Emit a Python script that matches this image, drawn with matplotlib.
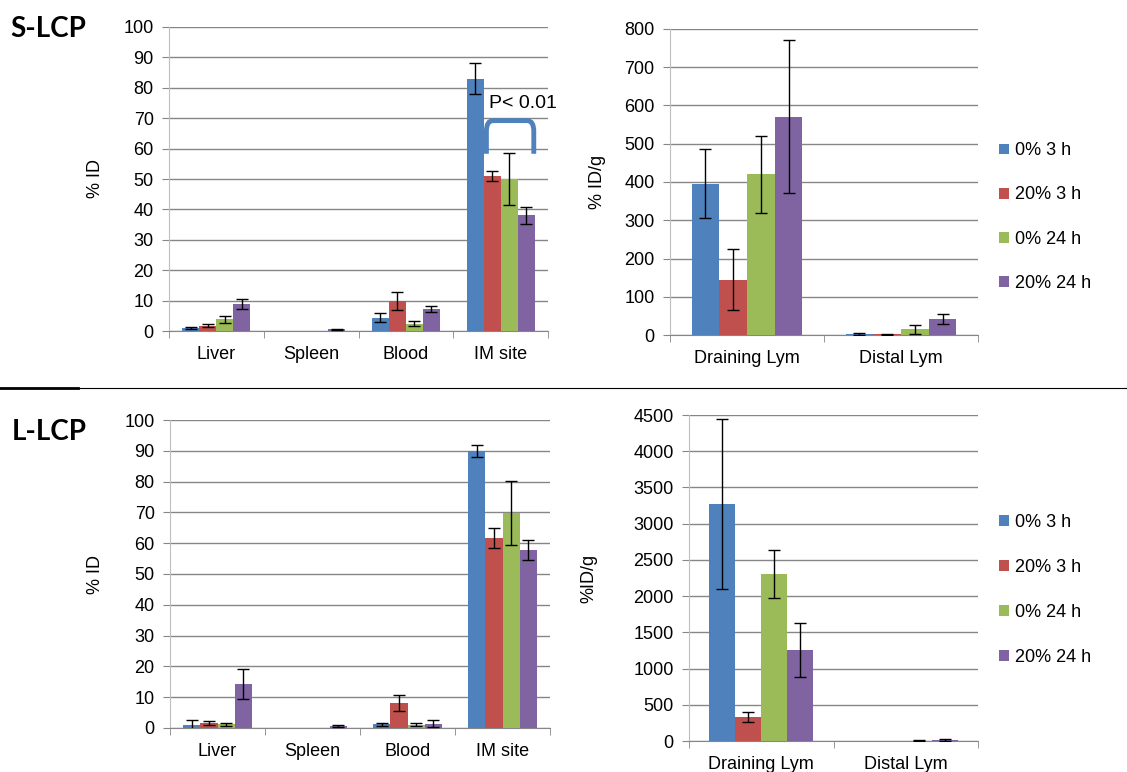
import numpy as np
import matplotlib
matplotlib.use('Agg')
import matplotlib.pyplot as plt
from matplotlib.path import Path
from matplotlib.patches import PathPatch
from matplotlib.lines import Line2D

plt.rcParams['font.family'] = ['Liberation Sans', 'DejaVu Sans']

# === Data ===
groups = ['0% 3 h', '20% 3 h', '0% 24 h', '20% 24 h']
colors = ['#4F81BD', '#C0504D', '#9BBB59', '#8064A2']
organs = ['Liver', 'Spleen', 'Blood', 'IM site']
nodes = ['Draining Lym', 'Distal Lym']

# rows = groups, columns = organs / nodes
s_id_mean = [[1.0, 0.0, 4.4, 83.0],
             [1.8, 0.0, 9.8, 51.0],
             [3.8, 0.0, 2.4, 50.0],
             [8.8, 0.5, 7.3, 38.0]]
s_id_err = [[0.4, 0.0, 1.4, 5.0],
            [0.6, 0.0, 3.0, 1.7],
            [1.2, 0.0, 0.8, 8.5],
            [1.6, 0.2, 1.0, 2.7]]

s_idg_mean = [[395, 3], [145, 2], [420, 15], [570, 42]]
s_idg_err = [[90, 2], [80, 1], [100, 12], [200, 12]]

l_id_mean = [[1.0, 0.0, 1.2, 90.0],
             [1.7, 0.0, 8.2, 61.8],
             [1.2, 0.0, 1.1, 69.8],
             [14.4, 0.7, 1.4, 57.8]]
l_id_err = [[1.5, 0.0, 0.4, 2.0],
            [0.6, 0.0, 2.6, 3.2],
            [0.5, 0.0, 0.5, 10.4],
            [4.9, 0.4, 1.2, 3.4]]

l_idg_mean = [[3270, 0], [330, 0], [2310, 3], [1260, 12]]
l_idg_err = [[1170, 0], [65, 0], [330, 4], [375, 12]]

GRID = '#868686'
W, H = 1127, 772


def bar_panel(rect, cats, means, errs, ymax, ystep, ylabel, label_x):
    ax = fig.add_axes(rect)
    x = np.arange(len(cats))
    width = 0.18
    bars = []
    for i, (m, e) in enumerate(zip(means, errs)):
        xs = x + (i - 1.5) * width
        b = ax.bar(xs, m, width, color=colors[i], zorder=3, label=groups[i])
        # skip error bars on empty cells
        m, e = np.array(m, float), np.array(e, float)
        keep = e > 0
        ax.errorbar(xs[keep], m[keep], yerr=e[keep], fmt='none', ecolor='black',
                    elinewidth=1, capsize=4, capthick=1, zorder=4)
        bars.append(b)
    ax.set_xlim(-0.5, len(cats) - 0.5)
    ax.set_ylim(0, ymax)
    ax.set_yticks(np.arange(0, ymax + 1, ystep))
    ax.set_xticks(x)
    ax.set_xticklabels(cats, fontsize=13)
    ax.set_xticks(np.arange(-0.5, len(cats), 1), minor=True)
    ax.tick_params(axis='x', which='major', length=0, pad=11)
    ax.tick_params(axis='x', which='minor', length=5, color=GRID, direction='out')
    ax.tick_params(axis='y', length=5, color=GRID, labelsize=13, pad=6)
    ax.yaxis.grid(True, color=GRID, linewidth=1, zorder=0)
    ax.set_axisbelow(True)
    for s in ['top', 'right']:
        ax.spines[s].set_visible(False)
    ax.spines['left'].set_color('#BFBFBF')
    ax.spines['bottom'].set_color(GRID)
    ax.set_ylabel(ylabel, fontsize=13)
    ax.yaxis.set_label_coords(label_x, 0.5)
    return ax, bars


fig = plt.figure(figsize=(W / 100, H / 100), dpi=100)

# === S-LCP row ===
ax1, _ = bar_panel([169 / W, 1 - 331 / H, 379 / W, 304 / H], organs,
                   s_id_mean, s_id_err, 100, 10, '% ID', -0.171)
ax2, bars = bar_panel([670 / W, 1 - 335 / H, 308 / W, 306 / H], nodes,
                      s_idg_mean, s_idg_err, 800, 100, '% ID/g', -0.208)

# significance bracket over the IM site bars
xl, xr, yt, yb, r = 2.85, 3.35, 69.2, 58.3, 0.07
verts = [(xl, yb), (xl, yt - 3.5), (xl, yt), (xl + r, yt),
         (xr - r, yt), (xr, yt), (xr, yt - 3.5), (xr, yb)]
codes = [Path.MOVETO, Path.LINETO, Path.CURVE3, Path.CURVE3,
         Path.LINETO, Path.CURVE3, Path.CURVE3, Path.LINETO]
ax1.add_patch(PathPatch(Path(verts, codes), fill=False, edgecolor=colors[0],
                        linewidth=3.5, capstyle='butt', zorder=5, clip_on=False))
ax1.text(2.88, 74.7, 'P< 0.01', fontsize=14, va='center', ha='left',
         clip_on=False, zorder=5)

legend_kw = dict(loc='center left', frameon=False, fontsize=13,
                 handlelength=0.55, handleheight=0.55, handletextpad=0.35,
                 borderpad=0, borderaxespad=0)
fig.legend(handles=bars, labels=groups, bbox_to_anchor=(999 / W, 1 - 217 / H),
           labelspacing=1.5, **legend_kw)

# === L-LCP row ===
ax3, _ = bar_panel([170 / W, 1 - 728 / H, 380 / W, 308 / H], organs,
                   l_id_mean, l_id_err, 100, 10, '% ID', -0.174)
ax4, bars = bar_panel([689 / W, 1 - 741 / H, 289 / W, 326 / H], nodes,
                      l_idg_mean, l_idg_err, 4500, 500, '%ID/g', -0.318)

fig.legend(handles=bars, labels=groups, bbox_to_anchor=(999 / W, 1 - 590 / H),
           labelspacing=1.55, **legend_kw)

# === Row titles and divider ===
fig.text(10 / W, 1 - 29 / H, 'S-LCP', fontsize=20, va='center', ha='left',
         weight='bold', family=['Lato', 'DejaVu Sans'])
fig.text(12 / W, 1 - 432 / H, 'L-LCP', fontsize=20, va='center', ha='left',
         weight='bold', family=['Lato', 'DejaVu Sans'])
ysep = 1 - 388 / H
fig.add_artist(Line2D([0, 1], [ysep, ysep], color='black', linewidth=0.8,
                      transform=fig.transFigure))
fig.add_artist(Line2D([0, 78 / W], [ysep, ysep], color='black', linewidth=2,
                      transform=fig.transFigure))

fig.savefig('out.png', dpi=100)
